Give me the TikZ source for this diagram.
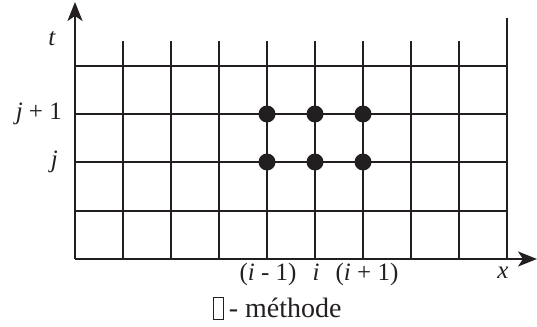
\documentclass[tikz,border=0pt]{standalone}
\usepackage{fontspec}
\setmainfont{Liberation Serif}
\usetikzlibrary{arrows.meta}
\definecolor{ink}{HTML}{231F20}
\tikzset{
  gridline/.style={ink, line width=2.3pt},
  axisline/.style={ink, line width=2.3pt, -{Stealth[length=19pt,width=15pt,inset=5pt]}},
  gpoint/.style={circle, fill=ink, inner sep=0pt, minimum size=17pt},
  lbl/.style={text=ink, font=\fontsize{25}{28}\selectfont, anchor=base, inner sep=0pt},
  captxt/.style={text=ink, font=\fontsize{28}{32}\selectfont, anchor=base, inner sep=0pt}
}
\begin{document}
\begin{tikzpicture}[x=1pt,y=-1pt]
\useasboundingbox (0,0) rectangle (537,326);
% grid
\foreach \k in {1,...,8} {
  \draw[gridline] (75+48*\k,41) -- (75+48*\k,259);
}
\draw[gridline] (507,18) -- (507,259);
\foreach \yy in {66,114,162,211} {
  \draw[gridline] (75,\yy) -- (507,\yy);
}
% axes
\coordinate (O) at (75,259);
\coordinate (T) at (75,2);
\coordinate (X) at (537,259);
\draw[axisline] (O) -- (T);
\draw[axisline] (O) -- (X);
% points
\node[gpoint] (p11) at (267,114) {};
\node[gpoint] (p12) at (315,114) {};
\node[gpoint] (p13) at (363,114) {};
\node[gpoint] (p21) at (267,162) {};
\node[gpoint] (p22) at (315,162) {};
\node[gpoint] (p23) at (363,162) {};
% labels
\node[lbl] (lt) at (52,46) {\textit{t}};
\node[lbl, anchor=base east] (ljp) at (62,119) {\textit{j} + 1};
\node[lbl, anchor=base east] (lj) at (58,167) {\textit{j}};
\node[lbl] (lim) at (268,280) {(\textit{i} - 1)};
\node[lbl] (li) at (316,280) {\textit{i}};
\node[lbl] (lip) at (367,280) {(\textit{i} + 1)};
\node[lbl] (lx) at (503,278) {\textit{x}};
\node[captxt] (lm) at (277,317) {{\setlength{\fboxsep}{0pt}\setlength{\fboxrule}{0.8pt}\fbox{\rule[-2pt]{0pt}{21pt}\hspace{10pt}}}\,- méthode};
\end{tikzpicture}
\end{document}
